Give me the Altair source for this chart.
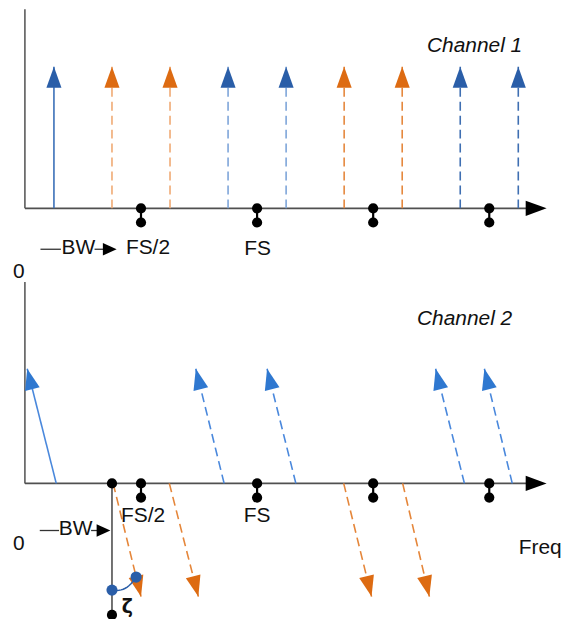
import math
import altair as alt
import pandas as pd

# ---------------- data (frequency in units of FS, amplitude in arbitrary units) ----------------
# Channel 1: tone and its images (all in phase, vertical arrows)
top_freq = [0.125, 0.375, 0.625, 0.875, 1.125, 1.375, 1.625, 1.875, 2.125]
top_dx = [0.0, 0.0, 0.0, 0.0, 0.0, 0.0, 0.0, 0.0, 0.0]
top_amp = [1.0, 1.0, 1.0, 1.0, 1.0, 1.0, 1.0, 1.0, 1.0]
top_kind = ["sig", "o1", "o1", "b1", "b1", "o2", "o2", "b2", "b2"]

# Channel 2: same tones, phase rotated (tilted arrows)
bot_freq = [0.135, 0.38, 0.622, 0.858, 1.167, 1.373, 1.627, 1.893, 2.099]
bot_dx = [-0.125, 0.12, 0.125, -0.122, -0.124, 0.12, 0.115, -0.124, -0.12]
bot_amp = [0.81, -0.80, -0.80, 0.81, 0.81, -0.80, -0.80, 0.81, 0.81]
bot_kind = ["sig", "o", "o", "b", "b", "o", "o", "b", "b"]

# Nyquist-zone markers (multiples of FS/2)
zone_marks = [0.5, 1.0, 1.5, 2.0]
zone_low = -0.1

# Channel 2 extra marker (vertical line under the first image, with zeta angle)
zeta_f = 0.375
zeta_bottom = -0.93
zeta_dots_f = [0.375, 0.479]
zeta_dots_amp = [-0.754, -0.662]

stem_color = {"sig": "#3a70b8", "o1": "#f0aa74", "b1": "#7ea5d9", "o2": "#e5883e", "b2": "#3f6fb2",
              "o": "#e5863a", "b": "#4a88dc"}
head_color = {"sig": "#2a5ea8", "o1": "#dd6b12", "b1": "#2a5ea8", "o2": "#dd6b12", "b2": "#2a5ea8",
              "o": "#dd6b12", "b": "#2f78d0"}
bot_head_sig = "#2f78d0"
bot_stem_sig = "#4a88dc"

# ---------------- layout ----------------
W = 562
H_TOP, H_BOT = 260, 359
X_DOMAIN = [-0.1073, 2.3047]
PX_PER_FS = W / (X_DOMAIN[1] - X_DOMAIN[0])
PX_PER_AMP = 142.0
Y_TOP = [(208 - H_TOP) / PX_PER_AMP, 208 / PX_PER_AMP]
Y_BOT = [(222 - H_BOT) / PX_PER_AMP, 222 / PX_PER_AMP]

ARROW = "M-0.72,2L0,0L0.72,2Z"   # tip at the point, body behind it
BW_ARROW = "M-0.9,2L0,0L0.9,2Z"
FONT = "Liberation Sans"
AXIS_COL = "#505050"
DOT_SIZE = 105


def xenc(field):
    return alt.X(field, type="quantitative",
                 scale=alt.Scale(domain=X_DOMAIN, nice=False, zero=False), axis=None)


def yenc(field, dom):
    return alt.Y(field, type="quantitative",
                 scale=alt.Scale(domain=dom, nice=False, zero=False), axis=None)


def tones_frame(freq, dx, amp, kind, bottom):
    rows = []
    for f, d, a, k in zip(freq, dx, amp, kind):
        ang = math.degrees(math.atan2(d * PX_PER_FS, a * PX_PER_AMP)) % 360
        sc = stem_color[k]
        hc = head_color[k]
        if bottom and k == "sig":
            sc, hc = bot_stem_sig, bot_head_sig
        rows.append(dict(f=f, f2=f + d, y0=0.0, amp=a, angle=ang, stem=sc, head=hc,
                         dashed=(k != "sig")))
    return pd.DataFrame(rows)


def panel(freq, dx, amp, kind, dom, height, bottom, texts):
    df = tones_frame(freq, dx, amp, kind, bottom)
    layers = []

    # axes
    axes = pd.DataFrame([
        dict(f=0.0, f2=2.21, y=0.0, y2=0.0, w=1.8),
        dict(f=0.0, f2=0.0, y=0.0, y2=(1.408 if not bottom else 1.423), w=1.5),
    ])
    layers.append(alt.Chart(axes).mark_rule(color=AXIS_COL).encode(
        x=xenc("f"), x2="f2", y=yenc("y", dom), y2="y2",
        strokeWidth=alt.StrokeWidth("w:Q", scale=None)))
    layers.append(alt.Chart(pd.DataFrame([dict(f=2.247, y=0.0, angle=90)])).mark_point(
        shape=ARROW, filled=True, size=441, opacity=1, color="black", strokeWidth=0).encode(
        x=xenc("f"), y=yenc("y", dom), angle=alt.Angle("angle:Q", scale=None)))

    # stems
    solid = df[~df["dashed"]]
    dashed = df[df["dashed"]]
    layers.append(alt.Chart(solid).mark_rule(strokeWidth=1.6).encode(
        x=xenc("f"), x2="f2", y=yenc("y0", dom), y2="amp",
        color=alt.Color("stem:N", scale=None)))
    layers.append(alt.Chart(dashed).mark_rule(strokeWidth=1.6, strokeDash=[9, 5]).encode(
        x=xenc("f"), x2="f2", y=yenc("y0", dom), y2="amp",
        color=alt.Color("stem:N", scale=None)))
    # heads
    layers.append(alt.Chart(df).mark_point(
        shape=ARROW, filled=True, size=441, opacity=1, strokeWidth=0).encode(
        x=xenc("f2"), y=yenc("amp", dom), angle=alt.Angle("angle:Q", scale=None),
        color=alt.Color("head:N", scale=None)))

    # zone markers
    zm = pd.DataFrame(dict(f=zone_marks, y=[0.0] * len(zone_marks), y2=[zone_low] * len(zone_marks)))
    layers.append(alt.Chart(zm).mark_rule(color="black", strokeWidth=2.2).encode(
        x=xenc("f"), y=yenc("y", dom), y2="y2"))
    zd = pd.concat([zm[["f", "y"]], zm[["f", "y2"]].rename(columns={"y2": "y"})])
    layers.append(alt.Chart(zd).mark_circle(color="black", size=DOT_SIZE, opacity=1).encode(
        x=xenc("f"), y=yenc("y", dom)))

    if bottom:
        zl = pd.DataFrame([dict(f=zeta_f, y=0.0, y2=zeta_bottom)])
        layers.append(alt.Chart(zl).mark_rule(color=AXIS_COL, strokeWidth=1.6).encode(
            x=xenc("f"), y=yenc("y", dom), y2="y2"))
        zdots = pd.DataFrame(dict(f=[zeta_f, zeta_f], y=[0.0, zeta_bottom]))
        layers.append(alt.Chart(zdots).mark_circle(color="black", size=DOT_SIZE, opacity=1).encode(
            x=xenc("f"), y=yenc("y", dom)))
        # arc between the two phase dots (quadratic Bezier)
        (fa, fb), (ya, yb) = zeta_dots_f, zeta_dots_amp
        fc, yc = fa + 0.6 * (fb - fa), ya - 0.02
        pts = []
        for i in range(13):
            t = i / 12
            pts.append(dict(i=i,
                            f=(1 - t) ** 2 * fa + 2 * t * (1 - t) * fc + t ** 2 * fb,
                            y=(1 - t) ** 2 * ya + 2 * t * (1 - t) * yc + t ** 2 * yb))
        layers.append(alt.Chart(pd.DataFrame(pts)).mark_line(color="#2a5ea8", strokeWidth=1.5).encode(
            x=xenc("f"), y=yenc("y", dom), order="i:Q"))
        bd = pd.DataFrame(dict(f=zeta_dots_f, y=zeta_dots_amp))
        layers.append(alt.Chart(bd).mark_circle(color="#2a5ea8", size=125, opacity=1).encode(
            x=xenc("f"), y=yenc("y", dom)))

    # BW arrow
    bw = texts["bw"]
    bwr = pd.DataFrame([dict(f=bw["dash"][0], f2=bw["dash"][1], y=bw["y"]),
                        dict(f=bw["shaft"][0], f2=bw["shaft"][1], y=bw["y"])])
    layers.append(alt.Chart(bwr).mark_rule(color="#333333", strokeWidth=1.3).encode(
        x=xenc("f"), x2="f2", y=yenc("y", dom)))
    layers.append(alt.Chart(pd.DataFrame([dict(f=bw["tip"], y=bw["y"], angle=90)])).mark_point(
        shape=BW_ARROW, filled=True, size=bw["size"], opacity=1, color="black", strokeWidth=0).encode(
        x=xenc("f"), y=yenc("y", dom), angle=alt.Angle("angle:Q", scale=None)))

    # texts
    for t in texts["labels"]:
        tdf = pd.DataFrame([dict(f=t["f"], y=t["y"], label=t["text"])])
        layers.append(alt.Chart(tdf).mark_text(
            font=t.get("font", FONT), fontSize=t.get("size", 21), fontStyle=t.get("style", "normal"),
            fontWeight=t.get("weight", "normal"), align=t.get("align", "center"), baseline="middle",
            color="#111111").encode(x=xenc("f"), y=yenc("y", dom), text="label:N"))

    return alt.layer(*layers).properties(width=W, height=height)


top_texts = {
    "bw": dict(dash=(0.067, 0.155), shaft=(0.300, 0.345), tip=0.395, y=-0.289, size=190),
    "labels": [
        dict(text="Channel 1", f=2.142, y=1.148, align="right", style="italic"),
        dict(text="FS/2", f=0.530, y=-0.282),
        dict(text="FS", f=1.002, y=-0.289),
        dict(text="BW", f=0.158, y=-0.282, align="left"),
    ],
}
bot_texts = {
    "bw": dict(dash=(0.064, 0.147), shaft=(0.285, 0.315), tip=0.368, y=-0.333, size=190),
    "labels": [
        dict(text="0", f=-0.0258, y=1.493, align="center"),
        dict(text="Channel 2", f=2.099, y=1.164, align="right", style="italic"),
        dict(text="FS/2", f=0.5086, y=-0.232),
        dict(text="FS", f=1.0, y=-0.232),
        dict(text="BW", f=0.146, y=-0.320, align="left"),
        dict(text="0", f=-0.0258, y=-0.426),
        dict(text="Freq", f=2.1266, y=-0.454, align="left"),
        dict(text="ζ", f=0.441, y=-0.873, weight="bold", font="DejaVu Sans", size=19),
    ],
}

top = panel(top_freq, top_dx, top_amp, top_kind, Y_TOP, H_TOP, False, top_texts)
bot = panel(bot_freq, bot_dx, bot_amp, bot_kind, Y_BOT, H_BOT, True, bot_texts)

chart = alt.vconcat(top, bot, spacing=0).properties(padding=0).configure_view(
    stroke=None).configure_concat(spacing=0)

chart.save("out.html", embed_options={"renderer": "svg", "actions": False})
